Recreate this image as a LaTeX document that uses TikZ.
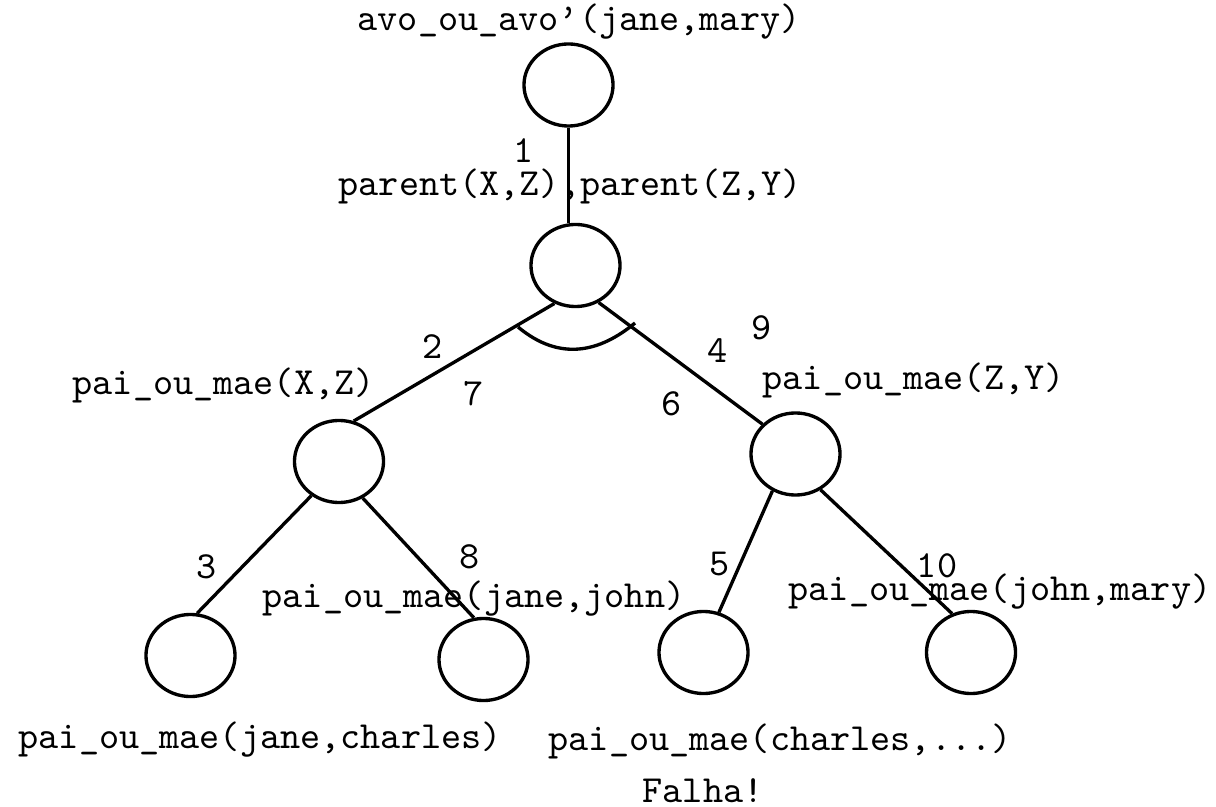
\documentclass[tikz,border=0pt]{standalone}
\usepackage{fontspec}
\usetikzlibrary{shapes.geometric}
\begin{document}
\begin{tikzpicture}[x=0.01cm,y=-0.01cm,
  goal/.style={draw,ellipse,line width=0.95pt,minimum width=0.89cm,minimum height=0.82cm,inner sep=0pt},
  edge/.style={line width=0.95pt},
  lbl/.style={inner sep=0pt,anchor=base west,font=\ttfamily\fontsize{10.9pt}{12pt}\selectfont},
  num/.style={inner sep=0pt,anchor=base,font=\ttfamily\fontsize{10.9pt}{12pt}\selectfont}]
\useasboundingbox (0,0) rectangle (1216,807);
% goal nodes
\node[goal] (n0) at (568.5,85) {};
\node[goal] (n1) at (575.5,265.5) {};
\node[goal] (n2) at (339,461.5) {};
\node[goal] (n3) at (795.5,454) {};
\node[goal] (n4) at (190.5,655.5) {};
\node[goal] (n5) at (483.5,659.5) {};
\node[goal] (n6) at (703.5,652.5) {};
\node[goal] (n7) at (971,652.5) {};
% connectors
\draw[edge] (n0.south) -- (n0.south |- n1.north);
\draw[edge] (n1.-119) -- (n2.70.5);
\draw[edge] (n1.-58.8) -- (n3.138.2);
\draw[edge] (n2.-129.5) -- (n4.81.5);
\draw[edge] (n2.-57.5) -- (n5.103.2);
\draw[edge] (n3.-122.6) -- (n6.69.8);
\draw[edge] (n3.-55.3) -- (n7.116.9);
% and-arc
\coordinate (arcL) at (518,327);
\coordinate (arcR) at (635,323);
\draw[edge] (arcL) .. controls (560,362) and (600,352) .. (arcR);
% texts
\node[lbl] (t0) at (357,31) {avo\_ou\_avo’(jane,mary)};
\node[lbl] (t1) at (338,196) {parent(X,Z),parent(Z,Y)};
\node[lbl] (t2) at (72,395) {pai\_ou\_mae(X,Z)};
\node[lbl] (t3) at (762,390) {pai\_ou\_mae(Z,Y)};
\node[lbl] (t4) at (262,607) {pai\_ou\_mae(jane,john)};
\node[lbl] (t5) at (788,600) {pai\_ou\_mae(john,mary)};
\node[lbl] (t6) at (18,748) {pai\_ou\_mae(jane,charles)};
\node[lbl] (t7) at (548,750) {pai\_ou\_mae(charles,...)};
\node[lbl] (t8) at (642,802) {Falha!};
% step numbers
\node[num] (s1) at (524,163) {1};
\node[num] (s2) at (433,359) {2};
\node[num] (s3) at (207,578) {3};
\node[num] (s4) at (718,363) {4};
\node[num] (s5) at (720,575) {5};
\node[num] (s6) at (672,416) {6};
\node[num] (s7) at (474,406) {7};
\node[num] (s8) at (470,568) {8};
\node[num] (s9) at (762,340) {9};
\node[num] (s10) at (937,577) {10};
\end{tikzpicture}
\end{document}
